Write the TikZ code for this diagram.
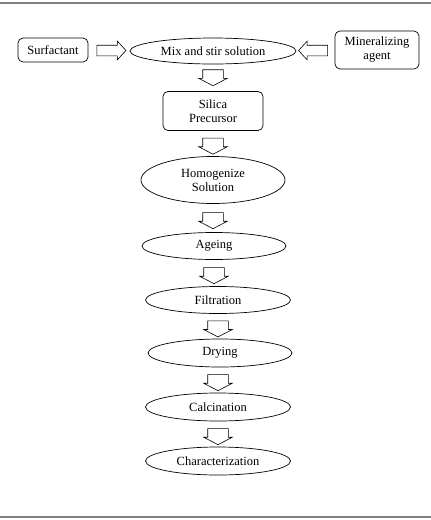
\documentclass[tikz,border=0pt]{standalone}
\usepackage{fontspec}
\setmainfont{Liberation Serif}
\usetikzlibrary{shapes.geometric,shapes.arrows}
\tikzset{
  every node/.style={font=\fontsize{12.5}{14}\selectfont},
  box/.style={draw, rounded corners=5pt, align=center, line width=0.7pt},
  oval/.style={ellipse, draw, align=center, inner sep=0pt, line width=0.7pt},
  hollowarrow/.style={single arrow, draw, line width=0.6pt, inner xsep=0pt,
    single arrow head indent=0pt, single arrow head extend=4pt},
  downarrow/.style={hollowarrow, rotate=-90, minimum height=16pt,
    inner ysep=10pt, single arrow tip angle=125},
  sidearrow/.style={hollowarrow, minimum height=29pt,
    inner ysep=5pt, single arrow tip angle=95}
}
\begin{document}
\begin{tikzpicture}[x=1pt,y=-1pt]
  \useasboundingbox (0,0) rectangle (431,520);
  \draw[gray, line width=1.5pt] (0,3) -- (431,3);
  \draw[gray, line width=1.5pt] (0,517) -- (431,517);

  \node (surf) at (53,50) [box, minimum width=70pt, minimum height=24pt] {Surfactant};
  \node (mix) at (213,51) [oval, minimum width=166pt, minimum height=26pt] {Mix and stir solution};
  \node (mineral) at (377,50) [box, minimum width=84pt, minimum height=38pt] {Mineralizing\\agent};
  \node (silica) at (213,111) [box, minimum width=100pt, minimum height=39pt] {Silica\\Precursor};
  \node (homog) at (213,180) [oval, minimum width=144pt, minimum height=47pt] {Homogenize\\Solution};
  \node (ageing) at (214,246) [oval, minimum width=144pt, minimum height=27pt] {Ageing};
  \node (filt) at (218,300) [oval, minimum width=145pt, minimum height=27pt] {Filtration};
  \node (dry) at (220,353) [oval, minimum width=144pt, minimum height=28pt] {Drying};
  \node (calc) at (218,407) [oval, minimum width=145pt, minimum height=28pt] {Calcination};
  \node (char) at (218,461) [oval, minimum width=145pt, minimum height=28pt] {Characterization};

  \path (surf.east) -- node[sidearrow] (a1) {} (mix.west);
  \path (mineral.west) -- node[sidearrow, rotate=180] (a2) {} (mix.east);
  \path (mix.south) -- node[downarrow, pos=0.4] (a3) {} (silica.north);
  \path (silica.south) -- node[downarrow] (a4) {} (homog.north);
  \path (homog.south) -- node[downarrow] (a5) {} (homog.south |- ageing.north);
  \path (ageing.south) -- node[downarrow] (a6) {} (ageing.south |- filt.north);
  \path (filt.south) -- node[downarrow] (a7) {} (filt.south |- dry.north);
  \path (dry.south -| calc.south) -- node[downarrow] (a8) {} (calc.north);
  \path (calc.south) -- node[downarrow] (a9) {} (char.north);
\end{tikzpicture}
\end{document}
